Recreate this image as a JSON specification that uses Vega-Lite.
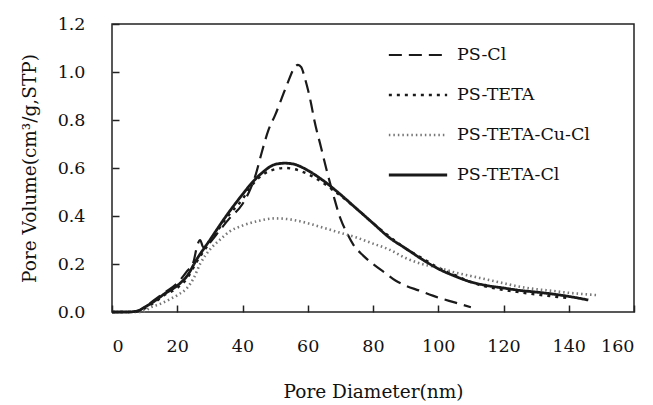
{
  "$schema": "https://vega.github.io/schema/vega-lite/v6.json",
  "width": 522,
  "height": 288,
  "autosize": {"type": "none"},
  "padding": {"left": 112, "top": 24, "right": 19, "bottom": 93},
  "config": {
    "font": "DejaVu Serif",
    "view": {"stroke": "#222", "strokeWidth": 1.5},
    "axis": {"domain": false, "grid": false, "labelColor": "#111", "titleColor": "#111", "tickColor": "#222", "labelFont": "DejaVu Serif", "titleFont": "DejaVu Serif", "titleFontWeight": "normal"},
    "legend": {"labelFont": "DejaVu Serif"}
  },
  "data": {
    "values": [
      {"s": "PS-Cl", "x": 0, "y": 0}, {"s": "PS-Cl", "x": 3, "y": 0}, {"s": "PS-Cl", "x": 6, "y": 0}, {"s": "PS-Cl", "x": 8, "y": 0.005},
      {"s": "PS-Cl", "x": 10, "y": 0.02}, {"s": "PS-Cl", "x": 13, "y": 0.05}, {"s": "PS-Cl", "x": 16, "y": 0.08}, {"s": "PS-Cl", "x": 20, "y": 0.12},
      {"s": "PS-Cl", "x": 23, "y": 0.17}, {"s": "PS-Cl", "x": 25, "y": 0.21}, {"s": "PS-Cl", "x": 26, "y": 0.27}, {"s": "PS-Cl", "x": 27, "y": 0.3},
      {"s": "PS-Cl", "x": 28, "y": 0.27}, {"s": "PS-Cl", "x": 30, "y": 0.29}, {"s": "PS-Cl", "x": 33, "y": 0.34}, {"s": "PS-Cl", "x": 36, "y": 0.39},
      {"s": "PS-Cl", "x": 40, "y": 0.45}, {"s": "PS-Cl", "x": 42, "y": 0.5}, {"s": "PS-Cl", "x": 44, "y": 0.57}, {"s": "PS-Cl", "x": 46, "y": 0.67},
      {"s": "PS-Cl", "x": 48, "y": 0.76}, {"s": "PS-Cl", "x": 50, "y": 0.82}, {"s": "PS-Cl", "x": 52, "y": 0.89}, {"s": "PS-Cl", "x": 54, "y": 0.96},
      {"s": "PS-Cl", "x": 56, "y": 1.02}, {"s": "PS-Cl", "x": 57, "y": 1.03}, {"s": "PS-Cl", "x": 58, "y": 1.02}, {"s": "PS-Cl", "x": 59, "y": 0.98},
      {"s": "PS-Cl", "x": 61, "y": 0.87}, {"s": "PS-Cl", "x": 62, "y": 0.8}, {"s": "PS-Cl", "x": 64, "y": 0.69}, {"s": "PS-Cl", "x": 66, "y": 0.58},
      {"s": "PS-Cl", "x": 68, "y": 0.48}, {"s": "PS-Cl", "x": 70, "y": 0.39}, {"s": "PS-Cl", "x": 72, "y": 0.33}, {"s": "PS-Cl", "x": 74, "y": 0.28},
      {"s": "PS-Cl", "x": 77, "y": 0.235}, {"s": "PS-Cl", "x": 80, "y": 0.2}, {"s": "PS-Cl", "x": 84, "y": 0.16}, {"s": "PS-Cl", "x": 87, "y": 0.13},
      {"s": "PS-Cl", "x": 90, "y": 0.11}, {"s": "PS-Cl", "x": 94, "y": 0.09}, {"s": "PS-Cl", "x": 100, "y": 0.06}, {"s": "PS-Cl", "x": 105, "y": 0.04},
      {"s": "PS-Cl", "x": 110, "y": 0.02},

      {"s": "PS-TETA", "x": 0, "y": 0}, {"s": "PS-TETA", "x": 5, "y": 0}, {"s": "PS-TETA", "x": 8, "y": 0.005}, {"s": "PS-TETA", "x": 10, "y": 0.015},
      {"s": "PS-TETA", "x": 13, "y": 0.04}, {"s": "PS-TETA", "x": 16, "y": 0.07}, {"s": "PS-TETA", "x": 20, "y": 0.1}, {"s": "PS-TETA", "x": 23, "y": 0.14},
      {"s": "PS-TETA", "x": 26, "y": 0.21}, {"s": "PS-TETA", "x": 30, "y": 0.29}, {"s": "PS-TETA", "x": 35, "y": 0.39}, {"s": "PS-TETA", "x": 40, "y": 0.47},
      {"s": "PS-TETA", "x": 43, "y": 0.53}, {"s": "PS-TETA", "x": 46, "y": 0.57}, {"s": "PS-TETA", "x": 50, "y": 0.595}, {"s": "PS-TETA", "x": 53, "y": 0.6},
      {"s": "PS-TETA", "x": 56, "y": 0.595}, {"s": "PS-TETA", "x": 60, "y": 0.575}, {"s": "PS-TETA", "x": 65, "y": 0.535}, {"s": "PS-TETA", "x": 70, "y": 0.485},
      {"s": "PS-TETA", "x": 75, "y": 0.43}, {"s": "PS-TETA", "x": 80, "y": 0.37}, {"s": "PS-TETA", "x": 85, "y": 0.315}, {"s": "PS-TETA", "x": 90, "y": 0.265},
      {"s": "PS-TETA", "x": 95, "y": 0.225}, {"s": "PS-TETA", "x": 100, "y": 0.185}, {"s": "PS-TETA", "x": 105, "y": 0.155}, {"s": "PS-TETA", "x": 110, "y": 0.125},
      {"s": "PS-TETA", "x": 115, "y": 0.105}, {"s": "PS-TETA", "x": 120, "y": 0.092}, {"s": "PS-TETA", "x": 125, "y": 0.082}, {"s": "PS-TETA", "x": 130, "y": 0.073},
      {"s": "PS-TETA", "x": 135, "y": 0.065}, {"s": "PS-TETA", "x": 140, "y": 0.058},

      {"s": "PS-TETA-Cu-Cl", "x": 0, "y": 0}, {"s": "PS-TETA-Cu-Cl", "x": 5, "y": 0}, {"s": "PS-TETA-Cu-Cl", "x": 9, "y": 0}, {"s": "PS-TETA-Cu-Cl", "x": 12, "y": 0.02},
      {"s": "PS-TETA-Cu-Cl", "x": 15, "y": 0.035}, {"s": "PS-TETA-Cu-Cl", "x": 18, "y": 0.055}, {"s": "PS-TETA-Cu-Cl", "x": 20, "y": 0.07}, {"s": "PS-TETA-Cu-Cl", "x": 23, "y": 0.1},
      {"s": "PS-TETA-Cu-Cl", "x": 25, "y": 0.14}, {"s": "PS-TETA-Cu-Cl", "x": 27, "y": 0.2}, {"s": "PS-TETA-Cu-Cl", "x": 30, "y": 0.26}, {"s": "PS-TETA-Cu-Cl", "x": 33, "y": 0.3},
      {"s": "PS-TETA-Cu-Cl", "x": 36, "y": 0.335}, {"s": "PS-TETA-Cu-Cl", "x": 40, "y": 0.36}, {"s": "PS-TETA-Cu-Cl", "x": 45, "y": 0.38}, {"s": "PS-TETA-Cu-Cl", "x": 50, "y": 0.39},
      {"s": "PS-TETA-Cu-Cl", "x": 55, "y": 0.385}, {"s": "PS-TETA-Cu-Cl", "x": 60, "y": 0.37}, {"s": "PS-TETA-Cu-Cl", "x": 65, "y": 0.35}, {"s": "PS-TETA-Cu-Cl", "x": 70, "y": 0.33},
      {"s": "PS-TETA-Cu-Cl", "x": 75, "y": 0.31}, {"s": "PS-TETA-Cu-Cl", "x": 80, "y": 0.285}, {"s": "PS-TETA-Cu-Cl", "x": 85, "y": 0.26}, {"s": "PS-TETA-Cu-Cl", "x": 90, "y": 0.225},
      {"s": "PS-TETA-Cu-Cl", "x": 95, "y": 0.2}, {"s": "PS-TETA-Cu-Cl", "x": 100, "y": 0.185}, {"s": "PS-TETA-Cu-Cl", "x": 105, "y": 0.165}, {"s": "PS-TETA-Cu-Cl", "x": 110, "y": 0.15},
      {"s": "PS-TETA-Cu-Cl", "x": 115, "y": 0.135}, {"s": "PS-TETA-Cu-Cl", "x": 120, "y": 0.12}, {"s": "PS-TETA-Cu-Cl", "x": 125, "y": 0.105}, {"s": "PS-TETA-Cu-Cl", "x": 130, "y": 0.095},
      {"s": "PS-TETA-Cu-Cl", "x": 135, "y": 0.088}, {"s": "PS-TETA-Cu-Cl", "x": 140, "y": 0.08}, {"s": "PS-TETA-Cu-Cl", "x": 145, "y": 0.074}, {"s": "PS-TETA-Cu-Cl", "x": 149, "y": 0.07},

      {"s": "PS-TETA-Cl", "x": 0, "y": 0}, {"s": "PS-TETA-Cl", "x": 5, "y": 0}, {"s": "PS-TETA-Cl", "x": 8, "y": 0.005}, {"s": "PS-TETA-Cl", "x": 10, "y": 0.02},
      {"s": "PS-TETA-Cl", "x": 13, "y": 0.045}, {"s": "PS-TETA-Cl", "x": 16, "y": 0.075}, {"s": "PS-TETA-Cl", "x": 20, "y": 0.11}, {"s": "PS-TETA-Cl", "x": 23, "y": 0.15},
      {"s": "PS-TETA-Cl", "x": 26, "y": 0.22}, {"s": "PS-TETA-Cl", "x": 30, "y": 0.3}, {"s": "PS-TETA-Cl", "x": 35, "y": 0.4}, {"s": "PS-TETA-Cl", "x": 40, "y": 0.49},
      {"s": "PS-TETA-Cl", "x": 43, "y": 0.54}, {"s": "PS-TETA-Cl", "x": 46, "y": 0.58}, {"s": "PS-TETA-Cl", "x": 50, "y": 0.615}, {"s": "PS-TETA-Cl", "x": 53, "y": 0.62},
      {"s": "PS-TETA-Cl", "x": 56, "y": 0.615}, {"s": "PS-TETA-Cl", "x": 60, "y": 0.59}, {"s": "PS-TETA-Cl", "x": 65, "y": 0.545}, {"s": "PS-TETA-Cl", "x": 70, "y": 0.49},
      {"s": "PS-TETA-Cl", "x": 75, "y": 0.43}, {"s": "PS-TETA-Cl", "x": 80, "y": 0.37}, {"s": "PS-TETA-Cl", "x": 85, "y": 0.31}, {"s": "PS-TETA-Cl", "x": 90, "y": 0.265},
      {"s": "PS-TETA-Cl", "x": 95, "y": 0.22}, {"s": "PS-TETA-Cl", "x": 100, "y": 0.18}, {"s": "PS-TETA-Cl", "x": 105, "y": 0.15}, {"s": "PS-TETA-Cl", "x": 110, "y": 0.125},
      {"s": "PS-TETA-Cl", "x": 115, "y": 0.11}, {"s": "PS-TETA-Cl", "x": 120, "y": 0.1}, {"s": "PS-TETA-Cl", "x": 125, "y": 0.09}, {"s": "PS-TETA-Cl", "x": 130, "y": 0.083},
      {"s": "PS-TETA-Cl", "x": 135, "y": 0.075}, {"s": "PS-TETA-Cl", "x": 140, "y": 0.065}, {"s": "PS-TETA-Cl", "x": 146, "y": 0.05}
    ]
  },
  "mark": {"type": "line", "interpolate": "monotone"},
  "encoding": {
    "x": {
      "field": "x", "type": "quantitative",
      "scale": {"domain": [0, 160], "nice": false},
      "axis": {"values": [0, 20, 40, 60, 80, 100, 120, 140, 160], "tickSize": -7, "tickWidth": 1.5, "labelFontSize": 17.5, "labelPadding": 32, "title": "Pore Diameter(nm)", "titleFontSize": 18.5, "titlePadding": 28}
    },
    "y": {
      "field": "y", "type": "quantitative",
      "scale": {"domain": [0, 1.2], "nice": false},
      "axis": {"values": [0, 0.2, 0.4, 0.6, 0.8, 1.0, 1.2], "format": ".1f", "tickSize": -7, "tickWidth": 1.5, "labelFontSize": 17.5, "labelPadding": 34, "title": "Pore Volume(cm³/g,STP)", "titleFontSize": 18.5, "titlePadding": 18}
    },
    "detail": {"field": "s"},
    "strokeDash": {
      "field": "s", "type": "nominal",
      "scale": {"domain": ["PS-Cl", "PS-TETA", "PS-TETA-Cu-Cl", "PS-TETA-Cl"], "range": [[13, 7], [3, 5], [1.5, 3], [1, 0]]},
      "legend": {"title": null, "orient": "none", "legendX": 275, "legendY": 21, "symbolType": "stroke", "symbolSize": 3400, "symbolStrokeWidth": 2.2, "clipHeight": 20, "rowPadding": 20, "labelFontSize": 17.5, "labelColor": "#111", "labelOffset": 8, "padding": 0}
    },
    "color": {
      "field": "s", "type": "nominal",
      "scale": {"domain": ["PS-Cl", "PS-TETA", "PS-TETA-Cu-Cl", "PS-TETA-Cl"], "range": ["#1a1a1a", "#1a1a1a", "#777777", "#1a1a1a"]},
      "legend": {"title": null, "orient": "none", "legendX": 275, "legendY": 21, "symbolType": "stroke", "symbolSize": 3400, "symbolStrokeWidth": 2.2, "clipHeight": 20, "rowPadding": 20, "labelFontSize": 17.5, "labelColor": "#111", "labelOffset": 8, "padding": 0}
    },
    "strokeWidth": {
      "field": "s", "type": "nominal",
      "scale": {"domain": ["PS-Cl", "PS-TETA", "PS-TETA-Cu-Cl", "PS-TETA-Cl"], "range": [2.2, 2.8, 1.6, 2]},
      "legend": null
    }
  }
}
